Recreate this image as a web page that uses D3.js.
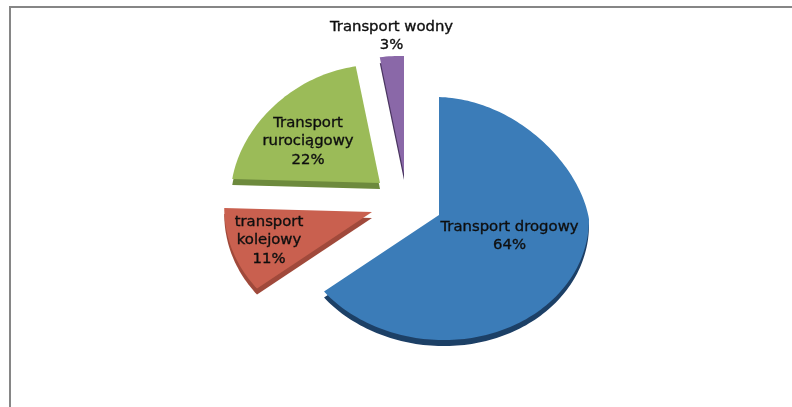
<!DOCTYPE html>
<html><head><meta charset="utf-8">
<script src="https://cdn.jsdelivr.net/npm/d3@7/dist/d3.min.js"></script>
<style>html,body{margin:0;padding:0;background:#fff}svg{display:block}</style>
</head><body><svg id="c" width="792" height="407"></svg>
<script>
const categories = ["Transport drogowy","transport kolejowy","Transport rurociągowy","Transport wodny"];
const values = [64,11,22,3];
const labelLines = [["Transport drogowy","64%"],["transport","kolejowy","11%"],["Transport","rurociągowy","22%"],["Transport wodny","3%"]];
const colors = ["#3a7cb8","#c9614f","#9bbb59","#8a68a8"];
const sideColors = ["#1f3f66","#a04a3a","#6d8a3c","#4a3560"];
const centers = [[439,215],[372,212],[380,183],[404,174]];
const labelPos = [[509.5,231],[269,226],[308,127],[391.5,31]];
const W=792,H=407,R=150,ryBack=118,ryFront=125,skew=4,depth=6,textStretch=1.1;
const svg=d3.select("#c");
svg.append("defs").append("filter").attr("id","soft").append("feGaussianBlur").attr("stdDeviation",0.35);
svg.append("line").attr("x1",9).attr("x2",W).attr("y1",7).attr("y2",7).attr("stroke","#868686").attr("stroke-width",2);
svg.append("line").attr("x1",10).attr("x2",10).attr("y1",6).attr("y2",H).attr("stroke","#868686").attr("stroke-width",2);
const pie=d3.pie().sort(null).value(d=>d)(values);
// Tilted pie projection: angle on the pie -> offset from slice apex on screen
function project(a){
  const u=Math.sin(a), v=-Math.cos(a);
  const sx=(1-0.14*Math.max(0,-v))*(u<0?1-0.015*Math.pow(u,4):1);
  return [R*u*sx, (v<0?ryBack:ryFront)*v+skew*u];
}
const line=d3.line();
function slicePath(p){
  const n=Math.max(8,Math.ceil((p.endAngle-p.startAngle)*40));
  const pts=d3.range(n+1).map(i=>project(p.startAngle+(p.endAngle-p.startAngle)*i/n));
  return line([[0,0],...pts])+"Z";
}
const g=svg.append("g").attr("filter","url(#soft)");
pie.forEach((p,i)=>{
  g.append("path").attr("d",slicePath(p)).attr("fill",sideColors[i])
   .attr("transform",`translate(${centers[i][0]},${centers[i][1]+depth})`);
  g.append("path").attr("d",slicePath(p)).attr("fill",colors[i])
   .attr("transform",`translate(${centers[i][0]},${centers[i][1]})`);
});
labelLines.forEach((ls,i)=>{
  const t=svg.append("g").attr("filter","url(#soft)").append("text").attr("text-anchor","middle")
    .attr("transform",`translate(${labelPos[i][0]},${labelPos[i][1]}) scale(${textStretch},1)`)
    .attr("font-family","'DejaVu Sans',Verdana,sans-serif").attr("font-size",13.5).attr("font-weight",400)
    .attr("fill","#111").attr("stroke","#111").attr("stroke-width",0.35);
  ls.forEach((s,j)=>t.append("tspan").attr("x",0).attr("y",j*18.5).text(s));
});
</script></body></html>
